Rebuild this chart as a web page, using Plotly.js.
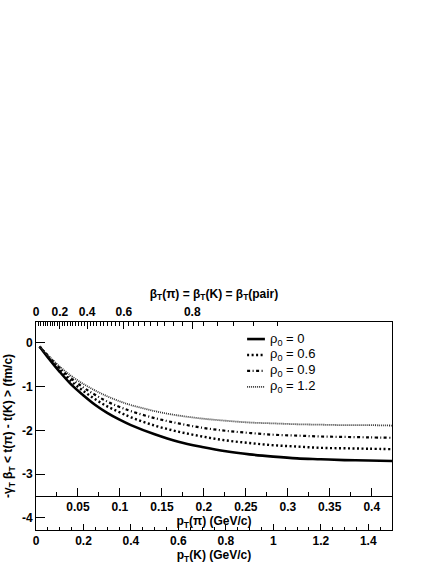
<!DOCTYPE html>
<html>
<head>
<meta charset="utf-8">
<script src="https://cdn.plot.ly/plotly-3.0.1.min.js"></script>
<style>
  html, body { margin: 0; padding: 0; background: #ffffff; }
  #chart { width: 436px; height: 564px; }
</style>
</head>
<body>
<div id="chart"></div>
<script>
//---------------------------------------data - start-----------------------------------------------
var pt_kaon = [0.015, 0.05, 0.1, 0.15, 0.2, 0.25, 0.3, 0.35, 0.4, 0.5, 0.6, 0.7, 0.8, 0.9, 1.0, 1.1, 1.2, 1.3, 1.4, 1.5];

var dt_rho_0   = [-0.08, -0.33, -0.66, -0.96, -1.20, -1.42, -1.60, -1.75, -1.88, -2.09, -2.26, -2.38, -2.48, -2.55, -2.60, -2.64, -2.66, -2.68, -2.69, -2.70];
var dt_rho_06  = [-0.08, -0.31, -0.61, -0.88, -1.10, -1.29, -1.45, -1.58, -1.70, -1.89, -2.03, -2.14, -2.23, -2.29, -2.34, -2.37, -2.40, -2.41, -2.42, -2.43];
var dt_rho_09  = [-0.08, -0.29, -0.57, -0.82, -1.02, -1.19, -1.34, -1.46, -1.56, -1.72, -1.84, -1.94, -2.01, -2.06, -2.10, -2.12, -2.14, -2.15, -2.16, -2.17];
var dt_rho_12  = [-0.08, -0.28, -0.54, -0.76, -0.94, -1.09, -1.22, -1.33, -1.42, -1.56, -1.66, -1.73, -1.78, -1.82, -1.84, -1.86, -1.87, -1.88, -1.88, -1.89];

var legend_names = ['ρ<sub>0</sub> = 0', 'ρ<sub>0</sub> = 0.6', 'ρ<sub>0</sub> = 0.9', 'ρ<sub>0</sub> = 1.2'];

// axis ticks
var kaon_ticks = [0, 0.2, 0.4, 0.6, 0.8, 1, 1.2, 1.4];
var pion_ticks = [0.05, 0.1, 0.15, 0.2, 0.25, 0.3, 0.35, 0.4];
var beta_ticks = [0, 0.2, 0.4, 0.6, 0.8];
var beta_minor = [0.02, 0.04, 0.06, 0.08, 0.1, 0.12, 0.14, 0.16, 0.18, 0.22, 0.24, 0.26, 0.28, 0.3, 0.32, 0.34, 0.36, 0.38,
                  0.42, 0.44, 0.46, 0.48, 0.5, 0.52, 0.54, 0.56, 0.58, 0.62, 0.64, 0.66, 0.68, 0.7, 0.72, 0.74, 0.76, 0.78,
                  0.82, 0.84, 0.86, 0.88, 0.9];
var y_ticks = [0, -1, -2, -3, -4];
//---------------------------------------data - end-----------------------------------------------

var m_kaon = 0.4937;   // GeV/c^2
var m_pion = 0.1396;
var pt_max = 1.5;

// beta_T -> kaon pT (same beta for pion and kaon)
function betaToKaonPt(b) {
  return m_kaon * b / Math.sqrt(1 - b * b);
}

var config = {
    displayModeBar: false,
    displaylogo: false,
    staticPlot: true,
};

var tick_font = {
  family: "'Liberation Sans', Arial, sans-serif",
  size: 12,
  weight: 'bold',
  color: '#000000'
};

var title_font = {
  family: "'Liberation Sans', Arial, sans-serif",
  size: 12,
  weight: 'bold',
  color: '#000000'
};

//---------------------------------------traces - start-----------------------------------------------
var line_styles = [
  { width: 2.6, color: '#000000', dash: 'solid' },
  { width: 2.4, color: '#000000', dash: '2px,2.5px' },
  { width: 2.2, color: '#000000', dash: '3px,2.5px,1px,2.5px' },
  { width: 1.8, color: '#333333', dash: '1px,1px' },
];

var series = [dt_rho_0, dt_rho_06, dt_rho_09, dt_rho_12];

var data_chart = series.map(function (ys, i) {
  return {
    x: pt_kaon, y: ys,
    type: 'scatter', mode: 'lines', name: legend_names[i],
    showlegend: false,
    line: Object.assign({ shape: 'spline', smoothing: 1 }, line_styles[i])
  };
});

// empty traces so the extra axes get drawn
data_chart.push({ x: [null], y: [null], xaxis: 'x2', yaxis: 'y', type: 'scatter', mode: 'lines', showlegend: false, hoverinfo: 'skip' });
data_chart.push({ x: [null], y: [null], xaxis: 'x3', yaxis: 'y', type: 'scatter', mode: 'lines', showlegend: false, hoverinfo: 'skip' });
//---------------------------------------traces - end-----------------------------------------------

//---------------------------------------legend (drawn by hand, plotly rows are too tall) - start---
var leg_x0 = 0.593, leg_x1 = 0.643, leg_text_x = 0.652;
var leg_top = 0.918, leg_step = 0.0765;   // paper fractions

var legend_shapes = [];
var legend_annotations = [];
legend_names.forEach(function (name, i) {
  var yy = leg_top - i * leg_step;
  legend_shapes.push({
    type: 'line', xref: 'paper', yref: 'paper',
    x0: leg_x0, x1: leg_x1, y0: yy, y1: yy,
    line: line_styles[i]
  });
  legend_annotations.push({
    xref: 'paper', yref: 'paper', x: leg_text_x, y: yy,
    xanchor: 'left', yanchor: 'middle', showarrow: false,
    text: name,
    font: { family: "'Liberation Sans', Arial, sans-serif", size: 13, color: '#000000' }
  });
});
//---------------------------------------legend - end-----------------------------------------------

var y_range = [-4.28, 0.48];
var pion_line_y = -3.5;

var layout_chart = {
  width: 436,
  height: 564,
  margin: { t: 322, r: 44, l: 36, b: 34 },
  paper_bgcolor: '#ffffff',
  plot_bgcolor: '#ffffff',
  showlegend: false,
  shapes: legend_shapes,
  annotations: legend_annotations,
  xaxis: {
    range: [0, pt_max],
    side: 'bottom',
    anchor: 'y',
    tickmode: 'array',
    tickvals: kaon_ticks,
    ticktext: kaon_ticks.map(String),
    ticks: 'inside',
    ticklen: 6,
    tickwidth: 1,
    tickcolor: '#000000',
    minor: { dtick: 0.05, tick0: 0, ticks: 'inside', ticklen: 3, tickcolor: '#000000' },
    tickfont: tick_font,
    showline: true,
    linecolor: '#000000',
    linewidth: 1,
    showgrid: false,
    zeroline: false,
    title: { text: 'p<sub>T</sub>(K) (GeV/c)', font: title_font, standoff: 2 },
  },
  xaxis2: {
    overlaying: 'x',
    anchor: 'free',
    position: (pion_line_y - y_range[0]) / (y_range[1] - y_range[0]),
    side: 'bottom',
    range: [0, pt_max * m_pion / m_kaon],
    tickmode: 'array',
    tickvals: pion_ticks,
    ticktext: pion_ticks.map(String),
    ticks: 'inside',
    ticklen: 8,
    tickwidth: 1,
    tickcolor: '#000000',
    minor: { dtick: 0.025, tick0: 0, ticks: 'inside', ticklen: 4, tickcolor: '#000000' },
    tickfont: tick_font,
    showline: true,
    linecolor: '#000000',
    linewidth: 1,
    showgrid: false,
    zeroline: false,
    title: { text: 'p<sub>T</sub>(π) (GeV/c)', font: title_font, standoff: 2 },
  },
  xaxis3: {
    overlaying: 'x',
    anchor: 'y',
    side: 'top',
    range: [0, pt_max],
    tickmode: 'array',
    tickvals: beta_ticks.map(betaToKaonPt),
    ticktext: beta_ticks.map(String),
    ticks: 'inside',
    ticklen: 7,
    tickwidth: 1,
    tickcolor: '#000000',
    minor: { tickmode: 'array', tickvals: beta_minor.map(betaToKaonPt), ticks: 'inside', ticklen: 4, tickcolor: '#000000' },
    tickfont: tick_font,
    showline: true,
    linecolor: '#000000',
    linewidth: 1,
    showgrid: false,
    zeroline: false,
    title: { text: 'β<sub>T</sub>(π) = β<sub>T</sub>(K) = β<sub>T</sub>(pair)', font: title_font, standoff: 4 },
  },
  yaxis: {
    range: y_range,
    tickmode: 'array',
    tickvals: y_ticks,
    ticktext: y_ticks.map(String),
    ticks: 'inside',
    ticklen: 9,
    tickwidth: 1,
    tickcolor: '#000000',
    tickfont: tick_font,
    showline: true,
    mirror: true,
    linecolor: '#000000',
    linewidth: 1,
    showgrid: false,
    zeroline: false,
    title: { text: '-γ<sub>T</sub> β<sub>T</sub> &lt; t(π) - t(K) &gt; (fm/c)', font: title_font, standoff: 6 },
  },
};

Plotly.newPlot('chart', data_chart, layout_chart, config);
</script>
</body>
</html>
